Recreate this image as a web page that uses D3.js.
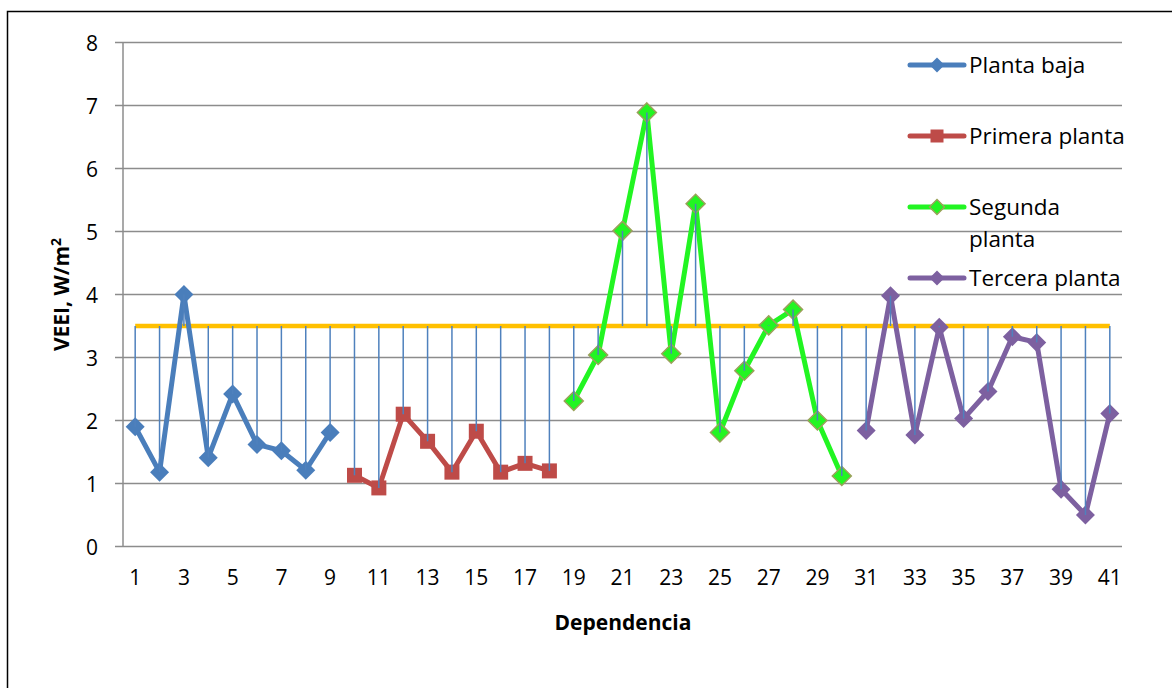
<!DOCTYPE html>
<html>
<head>
<meta charset="utf-8">
<script src="https://cdn.jsdelivr.net/npm/d3@7"></script>
<style>
  body { margin: 0; background: #fff; }
  text { font-family: "Open Sans", sans-serif; fill: #000; }
</style>
</head>
<body>
<div id="chart"></div>
<script>
// Data
const categories = d3.range(1, 42).map(String);
const threshold = 3.5;

const plantaBaja = [1.9, 1.18, 4.0, 1.41, 2.42, 1.62, 1.52, 1.21, 1.81];
const primeraPlanta = [1.13, 0.93, 2.1, 1.67, 1.18, 1.83, 1.18, 1.32, 1.2];
const segundaPlanta = [2.31, 3.04, 5.01, 6.89, 3.06, 5.44, 1.81, 2.79, 3.51, 3.76, 2.0, 1.12];
const terceraPlanta = [1.84, 3.98, 1.77, 3.48, 2.03, 2.46, 3.33, 3.24, 0.91, 0.5, 2.11];

const yTicks = [0, 1, 2, 3, 4, 5, 6, 7, 8];

const series = [
  { name: "Planta baja", start: 1, values: plantaBaja, color: "#4A7EBB", marker: "diamond", stroke: null },
  { name: "Primera planta", start: 10, values: primeraPlanta, color: "#BE4B48", marker: "square", stroke: null },
  { name: "Segunda planta", start: 19, values: segundaPlanta, color: "#22F522", marker: "diamond", stroke: "#9BA15A" },
  { name: "Tercera planta", start: 31, values: terceraPlanta, color: "#7D60A0", marker: "diamond", stroke: null }
];

const W = 1172, H = 688;
const margin = { top: 42.5, left: 123 };
const width = 1122 - margin.left,
      height = 546.5 - margin.top;

const svg = d3.select("#chart").append("svg")
    .attr("width", W)
    .attr("height", H);

// outer frame
svg.append("rect")
    .attr("x", 7.5).attr("y", 11.5)
    .attr("width", W + 20).attr("height", H + 20)
    .attr("fill", "none").attr("stroke", "#000").attr("stroke-width", 1.5);

const g = svg.append("g").attr("transform", `translate(${margin.left},${margin.top})`);

const x = d3.scaleBand().domain(categories).range([0, width]);
const y = d3.scaleLinear().domain([0, 8]).range([height, 0]);
const cx = d => x(String(d)) + x.bandwidth() / 2;

// gridlines
g.append("g")
    .selectAll("line")
    .data(yTicks)
    .join("line")
    .attr("x1", -8).attr("x2", width)
    .attr("y1", d => y(d)).attr("y2", d => y(d))
    .attr("stroke", "#8c8c8c").attr("stroke-width", 1.5);

// y axis
const yAxis = g.append("g")
    .call(d3.axisLeft(y).tickValues(yTicks).tickSize(8));
yAxis.select(".domain").attr("stroke", "#8c8c8c").attr("stroke-width", 1.5).attr("d", `M0,0V${height}`);
yAxis.selectAll(".tick line").remove();
yAxis.selectAll("text").style("font-size", "21px").attr("x", -25).attr("dy", "0.36em");

// x axis
const xAxis = g.append("g")
    .attr("transform", `translate(0,${height})`)
    .call(d3.axisBottom(x).tickValues(categories.filter((d, i) => i % 2 === 0)).tickSize(0).tickPadding(24));
xAxis.select(".domain").remove();
xAxis.selectAll("text").style("font-size", "21px");

// threshold line
g.append("line")
    .attr("x1", cx(1)).attr("x2", cx(41))
    .attr("y1", y(threshold)).attr("y2", y(threshold))
    .attr("stroke", "#FFC000").attr("stroke-width", 4.5);

// series lines
const line = d3.line().x(d => cx(d.cat)).y(d => y(d.v));
const diamond = r => `M0,${-r}L${r},0L0,${r}L${-r},0Z`;

series.forEach(s => {
  const pts = s.values.map((v, i) => ({ cat: s.start + i, v }));
  s.pts = pts;
  g.append("path")
      .datum(pts)
      .attr("d", line)
      .attr("fill", "none")
      .attr("stroke", s.color)
      .attr("stroke-width", 5)
      .attr("stroke-linejoin", "round");
  const m = g.append("g").selectAll("path").data(pts).join("path")
      .attr("transform", d => `translate(${cx(d.cat)},${y(d.v)})`)
      .attr("fill", s.color)
      .attr("d", s.marker === "square" ? "M-7.5,-7.5H7.5V7.5H-7.5Z" : diamond(9.5));
  if (s.stroke) m.attr("stroke", s.stroke).attr("stroke-width", 1.5);
});

// high-low lines between threshold and each value
const allPts = series.flatMap(s => s.pts);
g.append("g").selectAll("line").data(allPts).join("line")
    .attr("x1", d => cx(d.cat)).attr("x2", d => cx(d.cat))
    .attr("y1", y(threshold)).attr("y2", d => y(d.v))
    .attr("stroke", "#4F81BD").attr("stroke-width", 1.5);

// axis titles
svg.append("text")
    .attr("transform", "translate(69,294.5) rotate(-90)")
    .attr("text-anchor", "middle")
    .style("font-size", "21px").style("font-weight", "bold")
    .html('VEEI, W/m<tspan dy="-8" font-size="14px">2</tspan>');

svg.append("text")
    .attr("x", 623).attr("y", 630)
    .attr("text-anchor", "middle")
    .style("font-size", "21px").style("font-weight", "bold")
    .text("Dependencia");

// legend
const legendY = [65, 136, 207, 278];
const legend = svg.append("g");
series.forEach((s, i) => {
  const ly = legendY[i];
  const lg = legend.append("g").attr("transform", `translate(0,${ly})`);
  lg.append("line").attr("x1", 910).attr("x2", 964).attr("y1", 0).attr("y2", 0)
      .attr("stroke", s.color).attr("stroke-width", 5).attr("stroke-linecap", "round");
  const m = lg.append("path").attr("transform", "translate(937,0)")
      .attr("fill", s.color)
      .attr("d", s.marker === "square" ? "M-6.5,-6.5H6.5V6.5H-6.5Z" : diamond(7.5));
  if (s.stroke) m.attr("stroke", s.stroke).attr("stroke-width", 1.5);
  const t = lg.append("text").attr("x", 969).attr("y", 0).attr("dy", "0.36em").style("font-size", "22.5px");
  if (s.name === "Segunda planta") {
    t.append("tspan").attr("x", 969).text("Segunda");
    t.append("tspan").attr("x", 969).attr("dy", "1.42em").text("planta");
  } else {
    t.text(s.name);
  }
});
</script>
</body>
</html>
